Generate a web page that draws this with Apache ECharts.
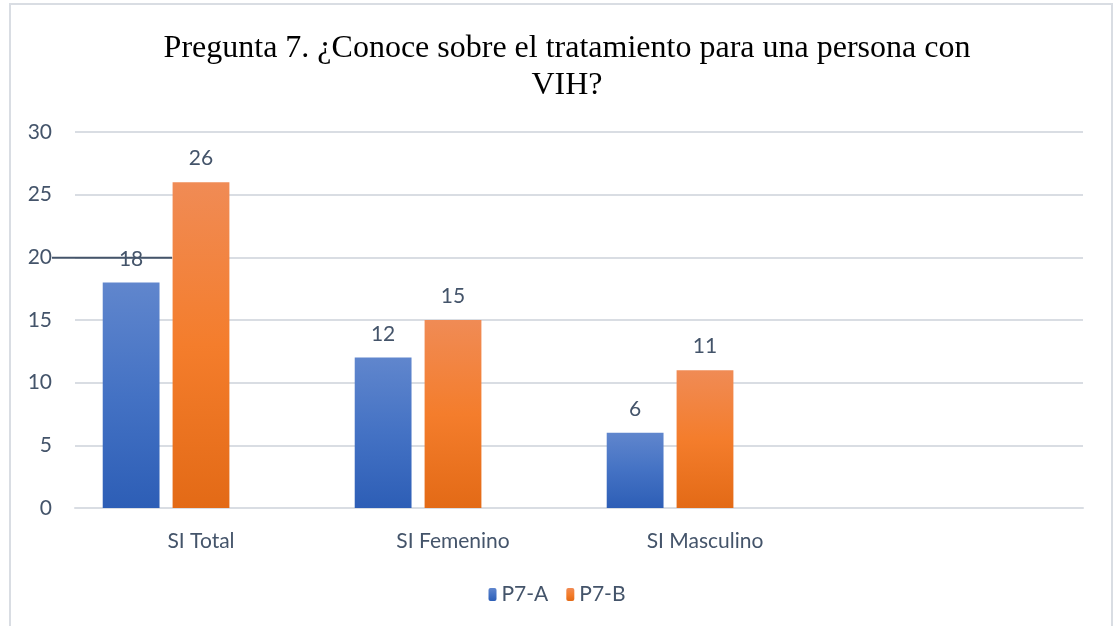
<!DOCTYPE html>
<html>
<head>
<meta charset="utf-8">
<script src="https://cdn.jsdelivr.net/npm/echarts@6/dist/echarts.min.js"></script>
<style>
  html, body { margin: 0; padding: 0; background: #fff; }
  #chart { width: 1114px; height: 626px; }
</style>
</head>
<body>
<div id="chart"></div>
<script>
// categories (the 4th slot is empty in the original chart)
const categories = ['SI Total', 'SI Femenino', 'SI Masculino', ''];
const p7a = [18, 12, 6, null];
const p7b = [26, 15, 11, null];
// third series has no values, but still takes up its slot in each group
const empty = [null, null, null, null];
const yTicks = { min: 0, max: 30, interval: 5 };

const textColor = '#44546a';
const gridColor = '#d9dde3';
const font = 'Lato';

function grad(top, mid, bottom) {
    return new echarts.graphic.LinearGradient(0, 0, 0, 1, [
        { offset: 0, color: top },
        { offset: 0.5, color: mid },
        { offset: 1, color: bottom }
    ]);
}

const chart = echarts.init(document.getElementById('chart'));

const labelStyle = {
    show: true,
    position: 'top',
    distance: 13,
    color: textColor,
    fontSize: 21,
    fontFamily: font
};

const option = {
    animation: false,
    backgroundColor: '#fff',
    title: {
        text: 'Pregunta 7. ¿Conoce sobre el tratamiento para una persona con\nVIH?',
        left: 562,
        textAlign: 'center',
        top: 25,
        textStyle: {
            fontFamily: 'Liberation Serif',
            fontWeight: 'normal',
            fontSize: 32,
            color: '#000',
            lineHeight: 37
        }
    },
    legend: {
        data: ['P7-A', 'P7-B'],
        bottom: 16,
        left: 'center',
        itemWidth: 8,
        itemHeight: 13,
        itemGap: 18,
        textStyle: { color: textColor, fontSize: 21, fontFamily: font }
    },
    grid: { left: 75, right: 31, top: 132, bottom: 118 },
    xAxis: {
        type: 'category',
        data: categories,
        axisLine: { lineStyle: { color: gridColor, width: 2 } },
        axisTick: { show: false },
        axisLabel: {
            color: textColor,
            fontSize: 21,
            fontFamily: font,
            margin: 23
        }
    },
    yAxis: {
        type: 'value',
        min: yTicks.min,
        max: yTicks.max,
        interval: yTicks.interval,
        axisLine: { show: false },
        axisTick: { show: false },
        splitLine: { lineStyle: { color: gridColor, width: 2 } },
        axisLabel: {
            color: textColor,
            fontSize: 21,
            fontFamily: font,
            margin: 23
        }
    },
    series: [
        {
            name: 'P7-A',
            type: 'bar',
            data: p7a,
            barGap: '23%',
            barCategoryGap: '22%',
            itemStyle: { color: grad('#6086cd', '#4472c4', '#2d5eb6') },
            label: labelStyle
        },
        {
            name: 'P7-B',
            type: 'bar',
            data: p7b,
            itemStyle: { color: grad('#f08b55', '#f47d2c', '#e36a16') },
            label: labelStyle
        },
        {
            name: 'P7-C',
            type: 'bar',
            data: empty
        }
    ],
    graphic: [
        {
            type: 'rect',
            shape: { x: 10, y: 4, width: 1102, height: 660 },
            style: { fill: 'none', stroke: '#d9dde3', lineWidth: 2 },
            silent: true
        }
    ]
};

chart.setOption(option);

// the stray dark line across "18" at the level of 20
const y20 = chart.convertToPixel({ yAxisIndex: 0 }, 20);
const cx0 = chart.convertToPixel({ xAxisIndex: 0 }, categories[0]);
chart.setOption({
    graphic: [
        option.graphic[0],
        {
            type: 'line',
            shape: { x1: 52, y1: y20 + 0.5, x2: cx0 - 29, y2: y20 + 0.5 },
            style: { stroke: textColor, lineWidth: 2 },
            z: 100,
            silent: true
        }
    ]
});
</script>
</body>
</html>
